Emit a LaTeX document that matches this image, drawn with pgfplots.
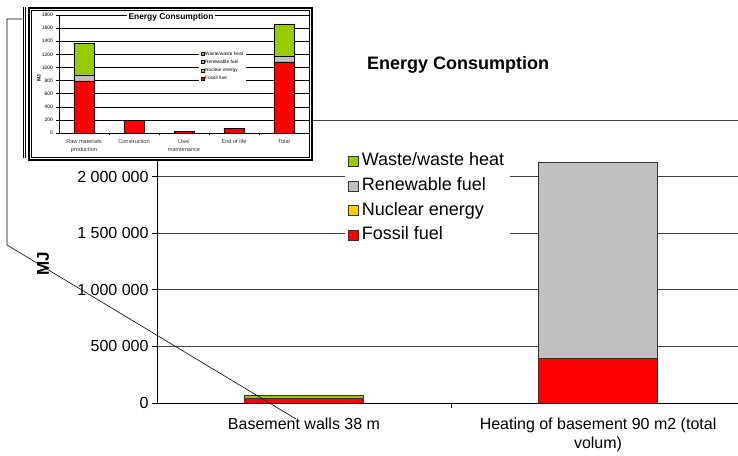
\documentclass[border=0pt]{standalone}
\usepackage{fontspec}
\setmainfont{Liberation Sans}
\usepackage{pgfplots}
\pgfplotsset{compat=1.18}
\definecolor{fossil}{RGB}{255,0,0}
\definecolor{nuclear}{RGB}{255,204,0}
\definecolor{renew}{RGB}{192,192,192}
\definecolor{waste}{RGB}{153,204,0}
\newcommand{\fs}[2]{\fontsize{#1bp}{#2bp}\selectfont}

\begin{document}
\begin{tikzpicture}[x=1bp,y=1bp]
\useasboundingbox (0,0) rectangle (738,456);
\coordinate (mainSW) at (157,53);
\coordinate (insetSW) at (59,323);

% main chart
\begin{axis}[
  at={(mainSW)}, anchor=south west,
  scale only axis, width=581bp, height=283bp,
  xmin=-0.5, xmax=1.476, ymin=0, ymax=2500000,
  axis x line*=bottom, axis y line*=left,
  axis line style={black, line width=0.8bp},
  ybar stacked, bar width=0.405,
  ytick={0,500000,1000000,1500000,2000000,2500000},
  yticklabels={0,500 000,1 000 000,1 500 000,2 000 000,2 500 000},
  scaled y ticks=false,
  ymajorgrids, grid style={black!75, line width=0.7bp},
  tick align=outside, major tick length=5bp,
  ytick style={black, line width=0.7bp},
  xtick={0,1},
  xticklabels={Basement walls 38 m,{Heating of basement 90 m2 (total\\volum)}},
  xtick style={draw=none},
  extra x ticks={0.5}, extra x tick labels={},
  extra x tick style={xtick style={draw=black, line width=0.7bp}},
  ticklabel style={font=\fs{16}{19}},
  xticklabel style={align=center, yshift=-6bp},
  legend style={at={(0.3236,0.899)}, anchor=north west, draw=none, fill=white,
    font=\fs{18}{20}, inner xsep=2.5bp, inner ysep=0bp, row sep=0pt,
    nodes={inner xsep=3.5bp, inner ysep=3.85bp, text height=13bp, text depth=4bp},
    cells={anchor=west}},
  reverse legend,
  legend image code/.code={\draw[#1] (0bp,-5bp) rectangle (10bp,5bp);},
]
\addplot[fill=fossil, draw=black!80, line width=0.6bp] coordinates {(0,42000) (1,395000)};
\addlegendentry{Fossil fuel}
\addplot[fill=nuclear, draw=black!80, line width=0.6bp] coordinates {(0,0) (1,0)};
\addlegendentry{Nuclear energy}
\addplot[fill=renew, draw=black!80, line width=0.6bp] coordinates {(0,2000) (1,1727000)};
\addlegendentry{Renewable fuel}
\addplot[fill=waste, draw=black!80, line width=0.6bp] coordinates {(0,23000) (1,0)};
\addlegendentry{Waste/waste heat}
\end{axis}

\node[font=\bfseries\fs{18}{20}] at (458,391) {Energy Consumption};
\node[font=\bfseries\fs{17}{19}, rotate=90] at (43,192) {MJ};

% inset picture of the earlier chart
\fill[white] (29,296) rectangle (312,448);
\draw[line width=1.4bp] (29,296) rectangle (312,448);
\draw[line width=0.5bp] (31.5,298.5) rectangle (309,445.5);
\draw[line width=0.6bp] (23,298) -- (23,449) (25,298) -- (25,449);

\begin{axis}[
  at={(insetSW)}, anchor=south west,
  scale only axis, width=250bp, height=118bp,
  xmin=-0.5, xmax=4.5, ymin=0, ymax=1800,
  axis x line*=bottom, axis y line*=left,
  axis line style={black, line width=0.6bp},
  ybar stacked, bar width=0.4,
  ytick={0,200,400,600,800,1000,1200,1400,1600,1800},
  ymajorgrids, grid style={black, line width=0.5bp},
  tick align=outside, major tick length=2.5bp,
  ytick style={black, line width=0.5bp},
  xtick={0,1,2,3,4},
  xticklabels={{Raw materials\\production},Construction,{Use/\\maintenance},End of life,Total},
  xtick style={draw=none},
  extra x ticks={0.5,1.5,2.5,3.5}, extra x tick labels={},
  extra x tick style={xtick style={draw=black, line width=0.5bp}},
  yticklabel style={font=\fs{5}{6}, /pgf/number format/assume math mode=true,
    /pgf/number format/1000 sep={}},
  xticklabel style={font=\fs{5.6}{8}, align=center, text=black!80, yshift=-0.8bp},
  legend style={at={(0.56,0.71)}, anchor=north west, draw=none, fill=white,
    font=\fs{4.8}{5}, inner xsep=1.5bp, inner ysep=0.5bp, row sep=0pt,
    nodes={inner xsep=1bp, inner ysep=1.8bp, text height=3.6bp, text depth=1bp},
    cells={anchor=west}},
  reverse legend,
  legend image code/.code={\draw[#1] (0bp,-1.5bp) rectangle (3bp,1.5bp);},
]
\addplot[fill=fossil, draw=black, line width=0.5bp] coordinates {(0,795) (1,188) (2,30) (3,72) (4,1085)};
\addlegendentry{Fossil fuel}
\addplot[fill=nuclear, draw=black, line width=0.5bp] coordinates {(0,0) (1,0) (2,0) (3,0) (4,0)};
\addlegendentry{Nuclear energy}
\addplot[fill=renew, draw=black, line width=0.5bp] coordinates {(0,90) (1,0) (2,0) (3,0) (4,90)};
\addlegendentry{Renewable fuel}
\addplot[fill=waste, draw=black, line width=0.5bp] coordinates {(0,485) (1,0) (2,0) (3,0) (4,490)};
\addlegendentry{Waste/waste heat}
\end{axis}

\node[font=\bfseries\fs{8.4}{9}, fill=white, inner xsep=2bp, inner ysep=1bp] at (171,439) {Energy Consumption};
\node[font=\bfseries\fs{5}{6}, rotate=90] at (39,378) {MJ};

% callout line
\draw[line width=0.6bp] (22,437) -- (7,437) -- (7,211) -- (296,37);
\end{tikzpicture}
\end{document}
